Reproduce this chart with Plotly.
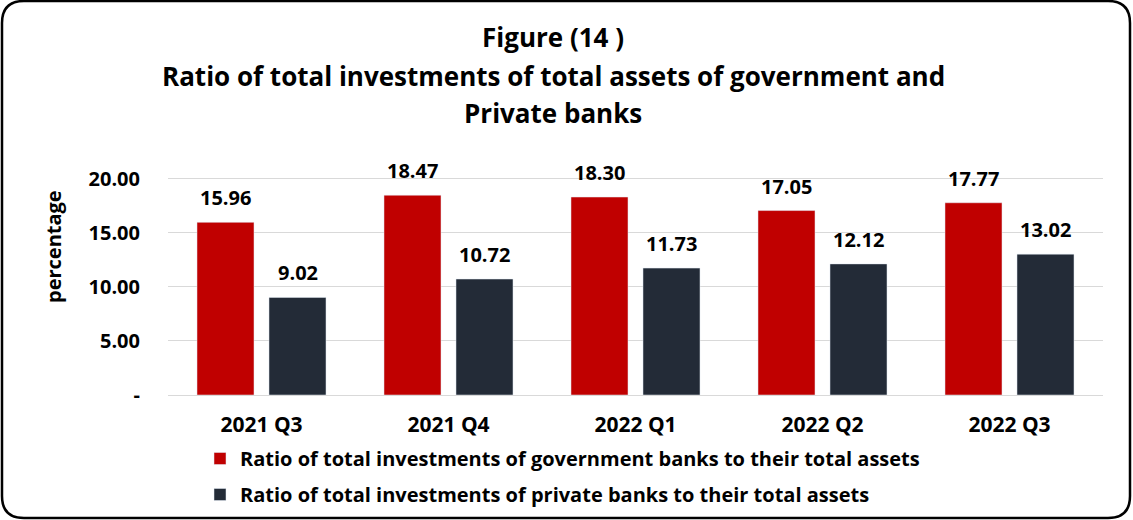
import plotly.graph_objects as go

# Quarterly ratios of total investments to total assets (%)
quarters = ["2021 Q3", "2021 Q4", "2022 Q1", "2022 Q2", "2022 Q3"]
government_banks = [15.96, 18.47, 18.30, 17.05, 17.77]
private_banks = [9.02, 10.72, 11.73, 12.12, 13.02]

series_names = [
    "Ratio of total investments of government banks to their total assets",
    "Ratio of total investments of private banks to their total assets",
]
title_lines = [
    "Figure (14 )",
    "Ratio of total investments of total assets of government and",
    "Private banks",
]
y_tick_values = [0, 5, 10, 15, 20]
y_tick_text = ["-", "5.00", "10.00", "15.00", "20.00"]

RED = "#C00000"
NAVY = "#232B37"
FONT = "Open Sans"

W, H = 1133, 520
ML, MR, MT, MB = 168, 30, 157, 125
PW, PH = W - ML - MR, H - MT - MB


def px_to_paper(px, py):
    return (px - ML) / PW, (H - MB - py) / PH


def rounded_frame(x0, y0, x1, y1, r):
    def p(x, y):
        a, b = px_to_paper(x, y)
        return f"{a:.5f},{b:.5f}"

    d = f"M{p(x0 + r, y0)} L{p(x1 - r, y0)} Q{p(x1, y0)} {p(x1, y0 + r)} "
    d += f"L{p(x1, y1 - r)} Q{p(x1, y1)} {p(x1 - r, y1)} "
    d += f"L{p(x0 + r, y1)} Q{p(x0, y1)} {p(x0, y1 - r)} "
    d += f"L{p(x0, y0 + r)} Q{p(x0, y0)} {p(x0 + r, y0)} Z"
    return d


fig = go.Figure()
fig.add_trace(go.Bar(x=quarters, y=government_banks, name=series_names[0],
                     marker_color=RED, legendgroup="g", hoverinfo="x+y"))
fig.add_trace(go.Bar(x=quarters, y=private_banks, name=series_names[1],
                     marker_color=NAVY, legendgroup="p", hoverinfo="x+y"))

# Value labels above each bar
for vals, shift in ((government_banks, -36), (private_banks, 36)):
    for q, v in zip(quarters, vals):
        fig.add_annotation(x=q, y=v, text=f"<b>{v:.2f}</b>", showarrow=False,
                           xshift=shift, yshift=9, yanchor="bottom",
                           font=dict(family=FONT, size=20, color="#000"))

# Three-line heading
title_x, _ = px_to_paper(553, 0)
for line, cy in zip(title_lines, (37, 76, 113)):
    fig.add_annotation(xref="paper", yref="paper", x=title_x,
                       y=px_to_paper(0, cy)[1], yanchor="middle",
                       showarrow=False, text=f"<b>{line}</b>",
                       font=dict(family=FONT, size=26, color="#000"))

ytitle_x, ytitle_y = px_to_paper(53, 247)
fig.add_annotation(xref="paper", yref="paper", x=ytitle_x, y=ytitle_y,
                   xanchor="center", yanchor="middle",
                   text="<b>percentage</b>", textangle=-90, showarrow=False,
                   font=dict(family=FONT, size=20, color="#000"))

fig.add_shape(type="path", xref="paper", yref="paper",
              path=rounded_frame(2, 1, 1130, 518, 22),
              line=dict(color="#000", width=2.5), layer="above")

lx, ly = px_to_paper(200, 439)
fig.update_layout(
    width=W, height=H,
    margin=dict(l=ML, r=MR, t=MT, b=MB, autoexpand=False),
    paper_bgcolor="white", plot_bgcolor="white",
    barmode="group", bargap=0.23, bargroupgap=0.208,
    font=dict(family=FONT, color="#000"),
    showlegend=True,
    legend=dict(x=lx, y=ly, xanchor="left", yanchor="top",
                traceorder="grouped", tracegroupgap=7,
                font=dict(family=FONT, size=20, color="#000", weight="bold"),
                bgcolor="rgba(0,0,0,0)"),
    xaxis=dict(showgrid=False, showline=False, ticklabelstandoff=15,
               tickfont=dict(family=FONT, size=21, weight="bold")),
    yaxis=dict(range=[0, 22], tickvals=y_tick_values, ticktext=y_tick_text,
               showgrid=True, gridcolor="#D9D9D9", gridwidth=1,
               zeroline=True, zerolinecolor="#D9D9D9", zerolinewidth=1,
               showline=False, ticklabelstandoff=27,
               tickfont=dict(family=FONT, size=20, weight="bold")),
)

fig.write_html("out.html")
